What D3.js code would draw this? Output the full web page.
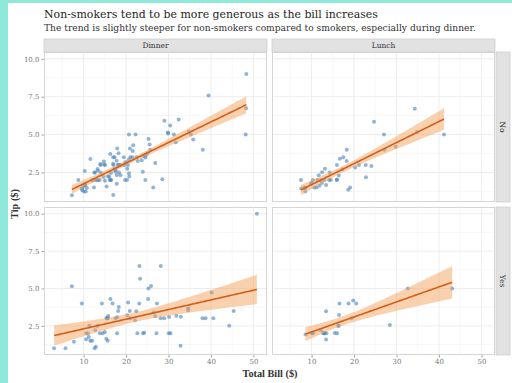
<!DOCTYPE html>
<html>
<head>
<meta charset="utf-8">
<script src="https://cdn.jsdelivr.net/npm/d3@7"></script>
<style>
  html, body { margin: 0; padding: 0; background: #8ee9da; }
  svg { display: block; }
</style>
</head>
<body>
<svg id="chart" width="512" height="383"></svg>
<script>
// Restaurant tips: total bill vs tip, split by meal time and smoker status.
const dinnerNoBill = [16.99,10.34,21.01,23.68,24.59,25.29,8.77,26.88,15.04,14.78,10.27,35.26,15.42,18.43,14.83,21.58,10.33,16.29,16.97,20.65,17.92,20.29,15.77,39.42,19.82,17.81,13.37,12.69,21.7,19.65,9.55,18.35,15.06,20.69,17.78,24.06,16.31,16.93,18.69,31.27,16.04,17.46,13.94,9.68,30.4,18.29,22.23,32.4,28.55,18.04,12.54,10.29,34.81,9.94,25.56,19.49,26.41,48.27,17.59,20.08,16.45,20.23,12.02,17.07,14.73,10.51,22.49,22.75,12.46,20.92,18.24,14.0,7.25,38.07,23.95,25.71,17.31,29.93,14.07,13.13,17.26,24.55,19.77,29.85,48.17,25.0,13.39,16.49,21.5,12.66,16.21,13.81,24.52,20.76,31.71,20.69,48.33,20.45,13.28,11.61,10.77,10.07,35.83,29.03,17.82,18.78];
const dinnerNoTip = [1.01,1.66,3.5,3.31,3.61,4.71,2.0,3.12,1.96,3.23,1.71,5.0,1.57,3.0,3.02,3.92,1.67,3.71,3.5,3.35,4.08,2.75,2.23,7.58,3.18,2.34,2.0,2.0,4.3,3.0,1.45,2.5,3.0,2.45,3.27,3.6,2.0,3.07,2.31,5.0,2.24,2.54,3.06,1.32,5.6,3.0,5.0,6.0,2.05,3.0,2.5,2.6,5.2,1.56,4.34,3.51,1.5,6.73,2.64,3.15,2.47,2.01,1.97,3.0,2.2,1.25,3.5,3.25,1.5,4.08,3.76,3.0,1.0,4.0,2.55,4.0,3.5,5.07,2.5,2.0,2.74,2.0,2.0,5.14,5.0,3.75,2.61,2.0,3.5,2.5,2.0,2.0,3.48,2.24,4.5,5.0,9.0,3.0,2.72,3.39,1.47,1.25,4.67,5.92,1.75,3.0];

const lunchNoBill = [27.2,22.76,17.29,16.66,10.07,15.98,34.83,13.03,18.28,24.71,21.16,10.65,12.43,24.08,11.69,13.42,14.26,15.95,12.48,29.8,8.52,14.52,11.38,22.82,19.08,20.27,11.17,12.26,18.26,8.51,10.33,14.15,13.16,17.47,34.3,41.19,27.05,16.43,8.35,18.64,11.87,9.78,7.51,7.56,15.98];
const lunchNoTip = [4.0,3.0,2.71,3.4,1.83,2.03,5.17,2.0,4.0,5.85,3.0,1.5,1.8,2.92,2.31,1.68,2.5,2.0,2.52,4.2,1.48,2.0,2.0,2.18,1.5,2.83,1.5,2.0,3.25,1.25,2.0,2.0,2.75,3.5,6.7,5.0,5.0,2.3,1.5,1.36,1.63,1.73,2.0,1.44,3.0];

const dinnerYesBill = [38.01,11.24,20.29,13.81,11.02,18.29,3.07,15.01,26.86,25.28,17.92,28.97,5.75,16.32,40.17,27.28,12.03,21.01,11.35,15.38,44.3,22.42,15.36,20.49,25.21,14.31,17.51,10.59,10.63,50.81,15.81,7.25,31.85,16.82,32.9,17.89,14.48,9.6,34.63,34.65,23.33,45.35,23.17,40.55,20.9,30.46,18.15,23.1,15.69,26.59,38.73,24.27,12.76,30.06,25.89,13.27,28.17,12.9,28.15,11.59,7.74,30.14,22.12,24.01,15.69,15.53,12.6,32.83,27.18,22.67];
const dinnerYesTip = [3.0,1.76,3.21,2.0,1.98,3.76,1.0,2.09,3.14,5.0,3.08,3.0,1.0,4.3,4.73,4.0,1.5,3.0,2.5,3.0,2.5,3.48,1.64,4.06,4.29,4.0,3.0,1.61,2.0,10.0,3.16,5.15,3.18,4.0,3.11,2.0,2.0,4.0,3.55,3.68,5.65,3.5,6.5,3.0,3.5,2.0,3.5,4.0,1.5,3.41,3.0,2.03,2.23,2.0,5.16,2.5,6.5,1.1,3.0,1.5,1.44,3.09,2.88,2.0,3.0,3.0,1.0,1.17,2.0,2.0];

const lunchYesBill = [19.44,32.68,16.0,19.81,28.44,15.48,16.58,10.34,43.11,13.0,13.51,18.71,12.74,13.0,16.4,20.53,16.47,12.16,13.42,8.58,13.42,16.27,10.09];
const lunchYesTip = [3.0,5.0,2.0,4.19,2.56,2.02,4.0,2.0,5.0,2.0,2.0,4.0,2.01,2.0,2.5,4.0,3.23,2.2,3.48,1.92,1.58,2.5,2.0];

const times = ["Dinner", "Lunch"];
const smokers = ["No", "Yes"];
const xTicks = [10, 20, 30, 40, 50];
const xMinor = [5, 15, 25, 35, 45];
const yTicks = [2.5, 5.0, 7.5, 10.0];
const yMinor = [1.25, 3.75, 6.25, 8.75];

const titleText = "Non-smokers tend to be more generous as the bill increases";
const subtitleText = "The trend is slightly steeper for non-smokers compared to smokers, especially during dinner.";
const xTitle = "Total Bill ($)";
const yTitle = "Tip ($)";

const groups = {
  "No|Dinner":  { bill: dinnerNoBill,  tip: dinnerNoTip },
  "No|Lunch":   { bill: lunchNoBill,   tip: lunchNoTip },
  "Yes|Dinner": { bill: dinnerYesBill, tip: dinnerYesTip },
  "Yes|Lunch":  { bill: lunchYesBill,  tip: lunchYesTip }
};

// ---- layout ----
const W = 512, H = 383;
const colX = [[44, 267], [272, 495]];
const rowY = [[52, 202], [207, 355]];
const stripTop = 39, stripRightX = 496, stripW = 14;
const FONT = "'DejaVu Serif', 'Liberation Serif', serif";
const AXIS_FONT = "'Liberation Serif', 'DejaVu Serif', serif";

const svg = d3.select("#chart");
svg.append("rect").attr("width", W).attr("height", H).attr("fill", "#8ee9da");
svg.append("rect").attr("x", 8).attr("y", 3).attr("width", W - 8).attr("height", H - 3).attr("fill", "#ffffff");

// shared scales (ggplot-style 5% expansion)
const allBill = [].concat(...Object.values(groups).map(g => g.bill));
const allTip = [].concat(...Object.values(groups).map(g => g.tip));
const [bx0, bx1] = d3.extent(allBill);
const [ty0, ty1] = d3.extent(allTip);
const xPad = (bx1 - bx0) * 0.05, yPad = (ty1 - ty0) * 0.05;
const xDomain = [bx0 - xPad, bx1 + xPad];
const yDomain = [ty0 - yPad, ty1 + yPad];

// Student t quantile (two-sided 95%) via Cornish-Fisher expansion
function tQuantile(df) {
  const z = 1.959963985;
  const z3 = z ** 3, z5 = z ** 5, z7 = z ** 7;
  return z + (z3 + z) / (4 * df) + (5 * z5 + 16 * z3 + 3 * z) / (96 * df * df)
    + (3 * z7 + 19 * z5 + 17 * z3 - 15 * z) / (384 * df ** 3);
}

function linearFit(xs, ys) {
  const n = xs.length;
  const mx = d3.mean(xs), my = d3.mean(ys);
  let sxx = 0, sxy = 0;
  for (let i = 0; i < n; i++) { sxx += (xs[i] - mx) ** 2; sxy += (xs[i] - mx) * (ys[i] - my); }
  const b = sxy / sxx, a = my - b * mx;
  let sse = 0;
  for (let i = 0; i < n; i++) sse += (ys[i] - a - b * xs[i]) ** 2;
  const s = Math.sqrt(sse / (n - 2));
  const t = tQuantile(n - 2);
  const [lo, hi] = d3.extent(xs);
  return d3.range(80).map(k => {
    const x = lo + (hi - lo) * k / 79;
    const y = a + b * x;
    const se = s * Math.sqrt(1 / n + (x - mx) ** 2 / sxx);
    return { x, y, lo: y - t * se, hi: y + t * se };
  });
}

const tickColor = "#8a8a8a";

smokers.forEach((sm, ri) => {
  times.forEach((tm, ci) => {
    const g = groups[sm + "|" + tm];
    const x = d3.scaleLinear().domain(xDomain).range(colX[ci]);
    const y = d3.scaleLinear().domain(yDomain).range([rowY[ri][1], rowY[ri][0]]);
    const panel = svg.append("g");
    const [px0, px1] = colX[ci], [py0, py1] = rowY[ri];

    panel.append("rect").attr("x", px0).attr("y", py0).attr("width", px1 - px0).attr("height", py1 - py0)
      .attr("fill", "#ffffff");

    // grid
    panel.selectAll(".vmin").data(xMinor).join("line")
      .attr("x1", d => x(d)).attr("x2", d => x(d)).attr("y1", py0).attr("y2", py1)
      .attr("stroke", "#f4f4f4").attr("stroke-width", 0.6);
    panel.selectAll(".hmin").data(yMinor).join("line")
      .attr("x1", px0).attr("x2", px1).attr("y1", d => y(d)).attr("y2", d => y(d))
      .attr("stroke", "#f4f4f4").attr("stroke-width", 0.6);
    panel.selectAll(".vmaj").data(xTicks).join("line")
      .attr("x1", d => x(d)).attr("x2", d => x(d)).attr("y1", py0).attr("y2", py1)
      .attr("stroke", "#e8e8e8").attr("stroke-width", 0.8);
    panel.selectAll(".hmaj").data(yTicks).join("line")
      .attr("x1", px0).attr("x2", px1).attr("y1", d => y(d)).attr("y2", d => y(d))
      .attr("stroke", "#e8e8e8").attr("stroke-width", 0.8);

    // points
    const pts = g.bill.map((b, i) => ({ b, t: g.tip[i] }));
    panel.selectAll("circle").data(pts).join("circle")
      .attr("cx", d => x(d.b)).attr("cy", d => y(d.t)).attr("r", 2)
      .attr("fill", "#4a83bd").attr("fill-opacity", 0.6);

    // regression fit with 95% confidence band
    const fit = linearFit(g.bill, g.tip);
    panel.append("path").datum(fit)
      .attr("d", d3.area().x(d => x(d.x)).y0(d => y(d.lo)).y1(d => y(d.hi)))
      .attr("fill", "#f4a460").attr("fill-opacity", 0.5);
    panel.append("path").datum(fit)
      .attr("d", d3.line().x(d => x(d.x)).y(d => y(d.y)))
      .attr("fill", "none").attr("stroke", "#d2601a").attr("stroke-width", 1.6);

    // border
    panel.append("rect").attr("x", px0 + 0.5).attr("y", py0 + 0.5)
      .attr("width", px1 - px0 - 1).attr("height", py1 - py0 - 1)
      .attr("fill", "none").attr("stroke", "#d6d6d6").attr("stroke-width", 1);

    // y axis on first column
    if (ci === 0) {
      const ax = svg.append("g").attr("transform", `translate(${px0},0)`)
        .call(d3.axisLeft(y).tickValues(yTicks).tickFormat(d3.format(".1f")).tickSize(2.5).tickPadding(2));
      ax.select(".domain").remove();
      ax.selectAll("line").attr("stroke", tickColor).attr("stroke-width", 0.8);
      ax.selectAll("text").attr("fill", "#777").style("font-family", FONT).style("font-size", "7px");
    }
    // x axis on bottom row
    if (ri === 1) {
      const ax = svg.append("g").attr("transform", `translate(0,${py1})`)
        .call(d3.axisBottom(x).tickValues(xTicks).tickFormat(d3.format("d")).tickSize(2.5).tickPadding(2));
      ax.select(".domain").remove();
      ax.selectAll("line").attr("stroke", tickColor).attr("stroke-width", 0.8);
      ax.selectAll("text").attr("fill", "#777").style("font-family", FONT).style("font-size", "7px");
    }
    // column strips
    if (ri === 0) {
      svg.append("rect").attr("x", px0).attr("y", stripTop).attr("width", px1 - px0).attr("height", py0 - stripTop)
        .attr("fill", "#e2e2e2").attr("stroke", "#d0d0d0").attr("stroke-width", 0.8);
      svg.append("text").attr("x", (px0 + px1) / 2).attr("y", (stripTop + py0) / 2 + 2.6)
        .attr("text-anchor", "middle").attr("fill", "#333").style("font-family", FONT).style("font-size", "7.5px")
        .text(tm);
    }
    // row strips
    if (ci === 1) {
      svg.append("rect").attr("x", stripRightX).attr("y", py0).attr("width", stripW).attr("height", py1 - py0)
        .attr("fill", "#e2e2e2").attr("stroke", "#d0d0d0").attr("stroke-width", 0.8);
      const cx = stripRightX + stripW / 2, cy = (py0 + py1) / 2;
      svg.append("text").attr("transform", `translate(${cx},${cy}) rotate(90)`)
        .attr("text-anchor", "middle").attr("dy", "0.35em").attr("fill", "#333")
        .style("font-family", FONT).style("font-size", "7.5px").text(sm);
    }
  });
});

// fit text to a target width by scaling its font size
function fitWidth(sel, width) {
  const node = sel.node();
  const fs = parseFloat(sel.style("font-size"));
  const w = node.getComputedTextLength();
  sel.style("font-size", (fs * width / w).toFixed(2) + "px");
}

const title = svg.append("text").attr("x", 44).attr("y", 18).attr("fill", "#1e1e1e")
  .style("font-family", FONT).style("font-size", "13px").text(titleText);
fitWidth(title, 334);
const subtitle = svg.append("text").attr("x", 44).attr("y", 31).attr("fill", "#333")
  .style("font-family", FONT).style("font-size", "8.5px").text(subtitleText);
fitWidth(subtitle, 433);

const xt = svg.append("text").attr("x", 270).attr("y", 377).attr("text-anchor", "middle").attr("fill", "#333")
  .style("font-family", AXIS_FONT).style("font-weight", "bold").style("font-size", "10px").text(xTitle);
fitWidth(xt, 55);
const yt = svg.append("text").attr("transform", "translate(18,204) rotate(-90)").attr("text-anchor", "middle").attr("fill", "#333")
  .style("font-family", AXIS_FONT).style("font-weight", "bold").style("font-size", "10px").text(yTitle);
fitWidth(yt, 30);
</script>
</body>
</html>
